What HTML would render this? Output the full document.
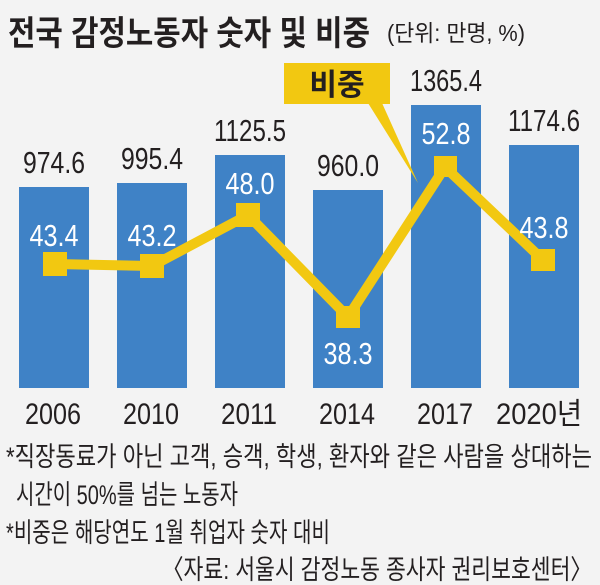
<!DOCTYPE html>
<html><head><meta charset="utf-8"><style>
body{margin:0;background:#f3f3f3;}
svg{display:block}
</style></head><body>
<svg width="600" height="585" viewBox="0 0 600 585" xmlns="http://www.w3.org/2000/svg">
<rect width="600" height="585" fill="#f3f3f3"/>
<text x="8" y="45" font-family="'Liberation Sans','Noto Sans CJK KR',sans-serif" font-weight="bold" font-size="34" fill="#231f20" textLength="362" lengthAdjust="spacingAndGlyphs">전국 감정노동자 숫자 및 비중</text>
<text x="387" y="41" font-family="'Liberation Sans','Noto Sans CJK KR',sans-serif" font-size="23" fill="#231f20" textLength="138" lengthAdjust="spacingAndGlyphs">(단위: 만명, %)</text>
<g fill="#3f82c6">
<rect x="19" y="187" width="70" height="201"/>
<rect x="117" y="183" width="70" height="205"/>
<rect x="215" y="155" width="70" height="233"/>
<rect x="313" y="190" width="70" height="198"/>
<rect x="411" y="105" width="70" height="283"/>
<rect x="509" y="145" width="70" height="243"/>
</g>
<g font-family="'Liberation Sans',sans-serif" font-size="31" fill="#231f20" text-anchor="middle">
<text x="54" y="173" textLength="62" lengthAdjust="spacingAndGlyphs">974.6</text>
<text x="152" y="169" textLength="62" lengthAdjust="spacingAndGlyphs">995.4</text>
<text x="250" y="141" textLength="72" lengthAdjust="spacingAndGlyphs">1125.5</text>
<text x="348" y="176" textLength="62" lengthAdjust="spacingAndGlyphs">960.0</text>
<text x="446" y="91" textLength="72" lengthAdjust="spacingAndGlyphs">1365.4</text>
<text x="544" y="131" textLength="72" lengthAdjust="spacingAndGlyphs">1174.6</text>
</g>
<polygon points="368,103 382,103 418,183" fill="#f2c811"/>
<rect x="284" y="63" width="106" height="41" fill="#f2c811"/>
<text x="337" y="95" text-anchor="middle" font-family="'Liberation Sans','Noto Sans CJK KR',sans-serif" font-weight="bold" font-size="30" fill="#231f20">비중</text>
<polyline points="55,264 152,266 248,215 348,317 445,167 543,260" fill="none" stroke="#f2c811" stroke-width="10" stroke-linejoin="miter"/>
<g fill="#f2c811">
<rect x="43" y="252" width="24" height="24"/>
<rect x="140" y="254" width="24" height="24"/>
<rect x="236" y="203" width="24" height="24"/>
<rect x="336" y="306" width="24" height="22"/>
<rect x="434" y="156" width="23" height="21"/>
<rect x="531" y="249" width="24" height="22"/>
</g>
<g font-family="'Liberation Sans',sans-serif" font-size="31" fill="#fff" text-anchor="middle">
<text x="54" y="246" textLength="49" lengthAdjust="spacingAndGlyphs">43.4</text>
<text x="152" y="246" textLength="49" lengthAdjust="spacingAndGlyphs">43.2</text>
<text x="250" y="194" textLength="49" lengthAdjust="spacingAndGlyphs">48.0</text>
<text x="348" y="364" textLength="49" lengthAdjust="spacingAndGlyphs">38.3</text>
<text x="446" y="144" textLength="49" lengthAdjust="spacingAndGlyphs">52.8</text>
<text x="544" y="238" textLength="49" lengthAdjust="spacingAndGlyphs">43.8</text>
</g>
<g font-family="'Liberation Sans','Noto Sans CJK KR',sans-serif" font-size="30" fill="#231f20" text-anchor="middle">
<text x="53" y="424" textLength="56" lengthAdjust="spacingAndGlyphs">2006</text>
<text x="151" y="424" textLength="56" lengthAdjust="spacingAndGlyphs">2010</text>
<text x="249" y="424" textLength="56" lengthAdjust="spacingAndGlyphs">2011</text>
<text x="347" y="424" textLength="56" lengthAdjust="spacingAndGlyphs">2014</text>
<text x="445" y="424" textLength="56" lengthAdjust="spacingAndGlyphs">2017</text>
<text x="539" y="424" textLength="86" lengthAdjust="spacingAndGlyphs">2020년</text>
</g>
<g font-family="'Liberation Sans','Noto Sans CJK KR',sans-serif" font-size="27" fill="#231f20">
<text x="6" y="466" textLength="586" lengthAdjust="spacingAndGlyphs">*직장동료가 아닌 고객, 승객, 학생, 환자와 같은 사람을 상대하는</text>
<text x="16" y="504" textLength="222" lengthAdjust="spacingAndGlyphs">시간이 50%를 넘는 노동자</text>
<text x="6" y="542" textLength="324" lengthAdjust="spacingAndGlyphs">*비중은 해당연도 1월 취업자 숫자 대비</text>
<text x="162" y="579" textLength="430" lengthAdjust="spacingAndGlyphs">〈자료: 서울시 감정노동 종사자 권리보호센터〉</text>
</g>
</svg>
</body></html>
